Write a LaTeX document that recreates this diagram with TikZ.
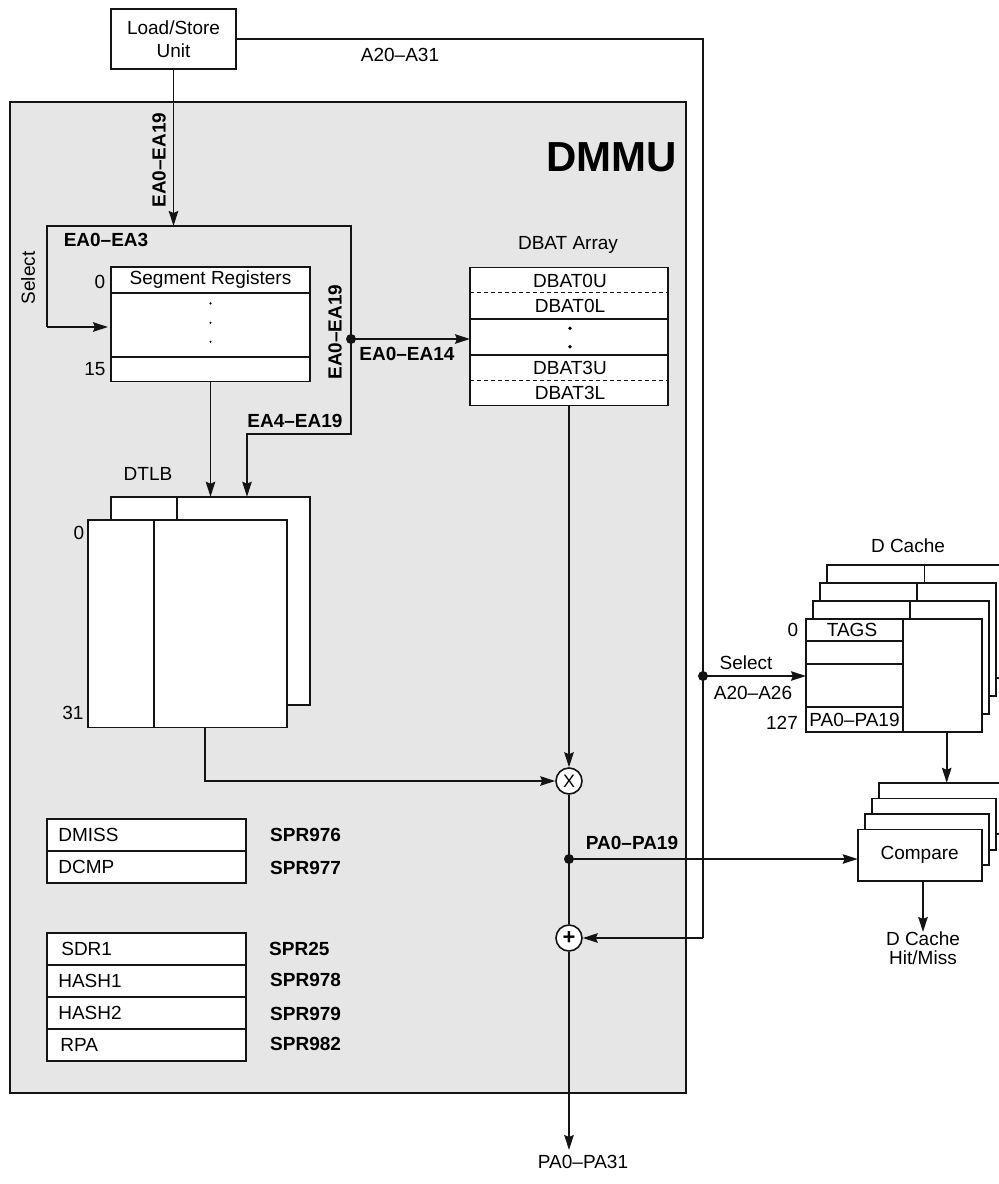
\documentclass[tikz,border=0pt]{standalone}
\usepackage{fontspec}
\setmainfont{Liberation Sans}
\usetikzlibrary{arrows.meta,calc}
\definecolor{dmmugray}{HTML}{E6E6E6}
\definecolor{lncol}{HTML}{141414}
\begin{document}
\begin{tikzpicture}[x=1pt,y=-1pt,
  font=\fontsize{19}{22}\selectfont,
  ln/.style={line width=1.6pt,draw=lncol},
  arr/.style={line width=1.6pt,draw=lncol,-{Stealth[length=15pt,width=9.5pt,inset=2pt]}},
  box/.style={draw=lncol,line width=1.6pt,fill=white,inner sep=0pt,outer sep=0pt},
  lbl/.style={inner sep=0pt},
  bl/.style={inner sep=0pt,font=\fontsize{19}{22}\selectfont\bfseries},
  jdot/.style={circle,fill=lncol,inner sep=0pt,minimum size=10pt},
  opcirc/.style={circle,draw=lncol,line width=1.6pt,fill=white,inner sep=0pt,minimum size=26pt},
  rowbox/.style={box,minimum width=199.3pt,minimum height=32pt,text width=176pt,align=left},
  dsh/.style={line width=0.9pt,draw=lncol,dash pattern=on 4pt off 3pt}]
\useasboundingbox (0,0) rectangle (999,1184);

% DMMU region
\node[draw=lncol,fill=dmmugray,line width=1.6pt,minimum width=676pt,minimum height=991pt,inner sep=0pt] (dmmu) at (348,597.5) {};
\node[anchor=east,inner sep=0pt,font=\fontsize{42}{42}\selectfont\bfseries] (dmmut) at (677,157) {DMMU};

% Load/Store unit
\node[box,minimum width=125pt,minimum height=60pt,align=center,font=\fontsize{19}{23}\selectfont] (lsu) at (173.5,39) {Load/Store\\Unit};
\node[lbl] (a2031) at (400,55) {A20–A31};

% loop coordinates
\coordinate (ltop) at (173.5,226);
\coordinate (lpTL) at (47,226);
\coordinate (lpTR) at (351,226);
\coordinate (lpBR) at (351,434);
\coordinate (lpBL) at (247,434);
\coordinate (lsel) at (47,327);

% Segment registers
\node[box,minimum width=199pt,minimum height=114.5pt] (segreg) at (210.5,324.25) {};
\draw[ln] (111,292.7) -- (310,292.7);
\draw[ln] (111,356.7) -- (310,356.7);
\node[lbl] (segt) at (210.5,280) {Segment Registers};
\fill (210.5,303.3) circle (1.2pt);
\fill (210.5,322.7) circle (1.2pt);
\fill (210.5,341.7) circle (1.2pt);
\node[lbl] (s0) at (100,282) {0};
\node[lbl] (s15) at (95,369.5) {15};

% DBAT array
\node[lbl] (dbatt) at (568,245) {DBAT Array};
\node[box,minimum width=198pt,minimum height=138pt] (dbat) at (569,336.5) {};
\draw[dsh] (470,292) -- (668,292);
\draw[ln] (470,318.7) -- (668,318.7);
\draw[ln] (470,355) -- (668,355);
\draw[dsh] (470,380) -- (668,380);
\node[lbl] (d0u) at (570,281) {DBAT0U};
\node[lbl] (d0l) at (570,305.5) {DBAT0L};
\fill (570,328.3) circle (1.9pt);
\fill (570,346.7) circle (1.9pt);
\node[lbl] (d3u) at (570,368) {DBAT3U};
\node[lbl] (d3l) at (570,393) {DBAT3L};

% DTLB
\node[lbl] (dtlbt) at (148,474) {DTLB};
\node[box,minimum width=199.3pt,minimum height=208.3pt] (dtlbB) at (210.35,600.85) {};
\draw[ln] (176.7,496.7) -- (176.7,520);
\node[box,minimum width=199.3pt,minimum height=207.3pt] (dtlbF) at (187.35,623.65) {};
\draw[ln] (153.7,520) -- (153.7,727.3);
\node[lbl] (t0) at (79,533) {0};
\node[lbl] (t31) at (73,713) {31};

% operators
\node[opcirc] (mul) at (569,781) {\fontsize{18}{18}\selectfont X};
\node[opcirc] (add) at (569,938) {\fontsize{22}{22}\selectfont\bfseries +};
\node[jdot] (pa) at (569,859) {};
\node[bl] (pa19) at (632,843) {PA0–PA19};

% registers
\node[rowbox] (dmiss) at (146.35,835) {DMISS};
\node[rowbox] (dcmp) at (146.35,867) {DCMP};
\node[bl,anchor=west] (spr976) at (270,835) {SPR976};
\node[bl,anchor=west] (spr977) at (270,868) {SPR977};
\node[rowbox] (sdr1) at (146.35,949) {\hspace*{3pt}SDR1};
\node[rowbox] (hash1) at (146.35,981) {HASH1};
\node[rowbox] (hash2) at (146.35,1013) {HASH2};
\node[rowbox] (rpa) at (146.35,1045) {\hspace*{2pt}RPA};
\node[bl,anchor=west] (spr25) at (269,949) {SPR25};
\node[bl,anchor=west] (spr978) at (270,980) {SPR978};
\node[bl,anchor=west] (spr979) at (270,1014) {SPR979};
\node[bl,anchor=west] (spr982) at (270,1044) {SPR982};

% D cache
\node[lbl] (dcachet) at (908,546) {D Cache};
\node[box,minimum width=176pt,minimum height=113.3pt] (cache4) at (915,621.35) {};
\draw[ln] (924.3,564.7) -- (924.3,678);
\node[box,minimum width=176pt,minimum height=113.3pt] (cache3) at (908,639.35) {};
\draw[ln] (917,582.7) -- (917,696);
\node[box,minimum width=176pt,minimum height=113.3pt] (cache2) at (901,657.35) {};
\draw[ln] (910,600.7) -- (910,714);
\node[box,minimum width=176pt,minimum height=113.3pt] (cache1) at (894,675.35) {};
\draw[ln] (902.7,618.7) -- (902.7,732);
\draw[ln] (806,641) -- (902.7,641);
\draw[ln] (806,664) -- (902.7,664);
\draw[ln] (806,706.7) -- (902.7,706.7);
\node[lbl] (tags) at (852,629.5) {TAGS};
\node[lbl] (cpa) at (854.5,719.5) {PA0–PA19};
\node[lbl] (c0) at (793,630) {0};
\node[lbl] (c127) at (782,722.5) {127};
\node[lbl] (csel) at (746,663) {Select};
\node[lbl] (ca2026) at (753,693) {A20–A26};

% Compare
\node[box,minimum width=124pt,minimum height=51.4pt] (cmp4) at (940.7,808.5) {};
\node[box,minimum width=124pt,minimum height=51.4pt] (cmp3) at (933.7,824) {};
\node[box,minimum width=124pt,minimum height=51.4pt] (cmp2) at (926.7,839.5) {};
\node[box,minimum width=124pt,minimum height=51.4pt] (cmp1) at (919.7,855) {Compare};
\node[lbl,align=center,font=\fontsize{19}{18.5}\selectfont,anchor=north] (hit) at (923,932) {D Cache\\Hit/Miss};

% address bus right
\coordinate (ra) at (703,39);
\coordinate (rb) at (703,938);
\node[jdot] (sdot) at (703,676) {};

% output
\coordinate (outp) at (569,1150);
\node[lbl] (pa31) at (583,1162) {PA0–PA31};

% rotated labels
\node[bl,rotate=90] (ea019a) at (159,160) {EA0–EA19};
\node[bl,rotate=90] (ea019b) at (335,332) {EA0–EA19};
\node[lbl,rotate=90] (selv) at (28,278) {Select};
\node[bl] (ea03) at (106,240) {EA0–EA3};
\node[bl] (ea014) at (407,354) {EA0–EA14};
\node[bl] (ea419) at (295,421) {EA4–EA19};

% junction
\node[jdot] (j1) at (351,339) {};

% connectors
\draw[arr] (lsu.south) -- (ltop);
\draw[arr] (lsel) -- (lpTL) -- (lpTR) -- (lpBR) -- (lpBL) -- (lpBL |- dtlbB.north);
\draw[arr,shorten >=3pt] (lsel) -- (lsel -| segreg.west);
\draw[arr] (segreg.south) -- (segreg.south |- dtlbB.north);
\draw[arr] (j1.center) -- (j1.center -| dbat.west);
\coordinate (tout) at (205,727.3);
\draw[arr] (tout) -- (tout |- mul.west) -- (mul.west);
\draw[arr] (dbat.south) -- (mul.north);
\draw[ln] (mul.south) -- (add.north);
\draw[arr] (pa.center) -- (pa.center -| cmp1.west);
\draw[arr] (add.south) -- (outp);
\draw[ln] (lsu.east) -- (ra) -- (rb);
\draw[arr] (rb) -- (add.east);
\draw[arr] (sdot.center) -- (sdot.center -| cache1.west);
\coordinate (cout) at (946.7,732);
\draw[arr] (cout) -- (cout |- cmp4.north);
\draw[arr] (cmp1.south -| hit.north) -- (hit.north);
\end{tikzpicture}
\end{document}
